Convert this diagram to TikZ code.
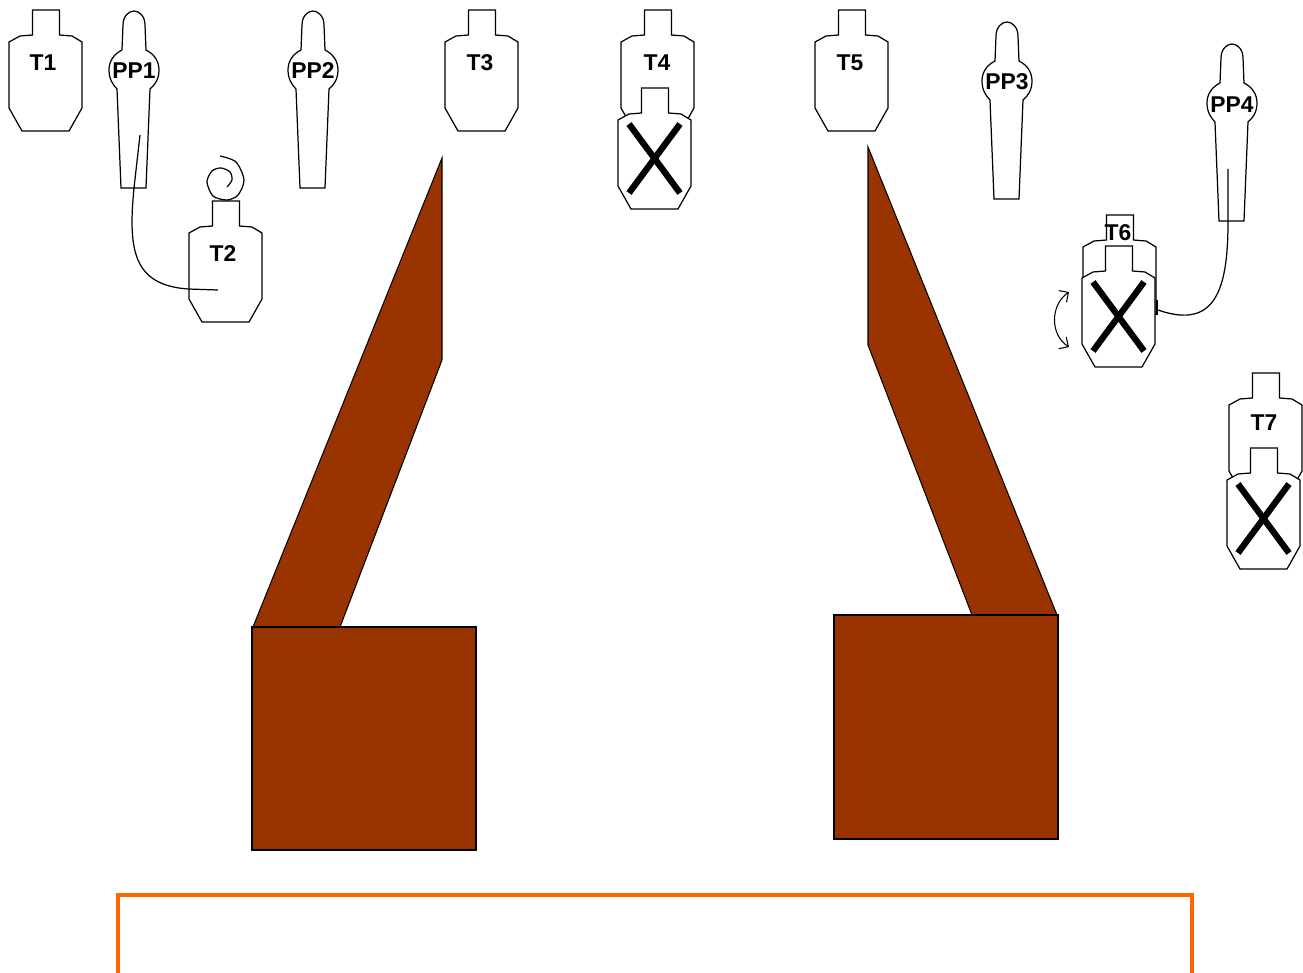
\documentclass[tikz,border=0pt]{standalone}
\usepackage{fontspec}
\setsansfont{Liberation Sans}
\usetikzlibrary{arrows.meta}
\definecolor{wallbrown}{HTML}{993300}
\definecolor{faultorange}{HTML}{FF6600}
\tikzset{
	target/.pic={
		\draw[fill=white] (-13.5,0) -- (13.5,0) -- (13.5,25) -- (26,26) -- (36,32) -- (36,98) -- (23,121) -- (-24,121) -- (-37,98) -- (-37,32) -- (-26,26) -- (-13.5,25) -- cycle;
	},
	popper/.pic={
		\draw (-12,39) -- (-11,14) .. controls (-11,5) and (-5,0) .. (0,0) .. controls (5,0) and (11,5) .. (11,14) -- (12,39)
			.. controls (20,43) and (25,50) .. (25,59) .. controls (25,68) and (21,74) .. (16,78) -- (12,177) -- (-13,177) -- (-17,78)
			.. controls (-21,74) and (-25,68) .. (-25,59) .. controls (-25,50) and (-20,43) .. (-12,39);
	},
	crossed/.pic={
		\draw[fill=white] (-13.5,0) -- (13.5,0) -- (13.5,25) -- (26,26) -- (36,32) -- (36,98) -- (23,121) -- (-24,121) -- (-37,98) -- (-37,32) -- (-26,26) -- (-13.5,25) -- cycle;
		\draw[line width=3.6pt] (-26,36) -- (25,105);
		\draw[line width=3.6pt] (25,36) -- (-26,105);
	}
}
\begin{document}
\begin{tikzpicture}[x=0.02cm, y=-0.02cm, >={Straight Barb[length=4pt,width=8pt]}, line width=0.7pt,
		lbl/.style={font=\sffamily\bfseries\fontsize{13}{14}\selectfont, inner sep=0pt},
		wall/.style={draw=black, line width=0.6pt, fill=wallbrown}]
	\useasboundingbox (0,0) rectangle (1303,973);
	% standing targets
	\foreach \x/\y in {46/10, 226/201, 482/10, 658/10, 852/10, 1120/215, 1266/373}
		\pic at (\x,\y) {target};
	% poppers
	\foreach \x/\y in {134/11, 313/11, 1007/22, 1232/44}
		\pic at (\x,\y) {popper};
	% targets that swing out
	\foreach \x/\y in {655/88, 1119/246, 1264/448}
		\pic at (\x,\y) {crossed};
	% walls
	\draw[wall] (253,627) -- (442,158) -- (442,360) -- (340,627) -- cycle;
	\draw[wall] (252,627) rectangle (476,850);
	\draw[wall] (868,147) -- (1057,615) -- (972,615) -- (868,345) -- cycle;
	\draw[wall] (834,615) rectangle (1058,839);
	% fault line
	\draw[faultorange, line width=2.3pt] (118,973) -- (118,895) -- (1192,895) -- (1192,973);
	% wires
	\coordinate (W1a) at (140,135);
	\coordinate (W1b) at (134,188);
	\coordinate (W1c) at (188,289);
	\coordinate (W1d) at (218,290);
	\draw (W1a) -- (W1b) .. controls (128,250) and (133,285) .. (W1c) -- (W1d);
	\coordinate (W2a) at (1228,169);
	\coordinate (W2b) at (1228,222);
	\coordinate (W2c) at (1158,310);
	\draw (W2a) -- (W2b) .. controls (1228,290) and (1215,330) .. (W2c);
	\draw[line width=1.2pt] (1157,300) -- (1157,315);
	% swing marks
	\draw plot[smooth] coordinates {(220,156) (236,162) (244,180) (238,195) (227,200) (213,196) (207,182) (212,171) (221,168) (230,172) (232,180) (227,187)};
	\coordinate (S1) at (1069,292);
	\coordinate (S2) at (1069,347);
	\draw[<->, line width=0.6pt] (S1) .. controls (1050,305) and (1050,335) .. (S2);
	% labels
	\node[lbl] (T1) at (43,63) {T1};
	\node[lbl] (T2) at (223,254) {T2};
	\node[lbl] (T3) at (480,63) {T3};
	\node[lbl] (T4) at (657,63) {T4};
	\node[lbl] (T5) at (850,63) {T5};
	\node[lbl] (T6) at (1118,233) {T6};
	\node[lbl] (T7) at (1264,423) {T7};
	\node[lbl] (PP1) at (134,71) {PP1};
	\node[lbl] (PP2) at (313,71) {PP2};
	\node[lbl] (PP3) at (1007,82) {PP3};
	\node[lbl] (PP4) at (1232,105) {PP4};
\end{tikzpicture}
\end{document}
